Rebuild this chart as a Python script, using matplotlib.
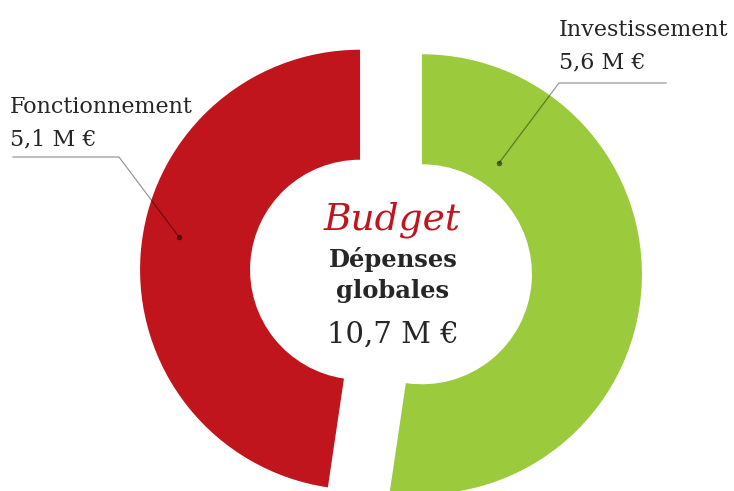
import matplotlib.pyplot as plt

labels = ['Investissement', 'Fonctionnement']
values = [5.6, 5.1]
value_labels = ['5,6 M €', '5,1 M €']
colors = ['#9bca3c', '#c1151e']
total_label = '10,7 M €'

W, H = 734, 491
scale = 220.0          # pixels per radius unit
cx, cy = 391, 272      # donut centre in pixels


def px(x, y):
    # pixel position -> data coords
    return ((x - cx) / scale, (cy - y) / scale)


fig = plt.figure(figsize=(W / 100, H / 100), dpi=100)
ax = fig.add_axes([0, 0, 1, 1])

ax.pie(values, colors=colors, startangle=90, counterclock=False,
       radius=1.0, explode=[0.141, 0.141],
       wedgeprops=dict(width=0.5, linewidth=0))

# pie resets the limits, so set them afterwards
ax.set_xlim(px(0, 0)[0], px(W, 0)[0])
ax.set_ylim(px(0, H)[1], px(0, 0)[1])
ax.set_aspect('equal')
ax.axis('off')

serif = 'DejaVu Serif'
txt = '#262626'

# centre text
ax.text(*px(392, 229), 'Budget', color='#c1151e', fontsize=27,
        family=serif, style='italic', ha='center', va='baseline')
ax.text(*px(393, 267), 'Dépenses', color=txt, fontsize=17.5,
        family=serif, weight='bold', ha='center', va='baseline')
ax.text(*px(393, 298), 'globales', color=txt, fontsize=17.5,
        family=serif, weight='bold', ha='center', va='baseline')
ax.text(*px(393, 343), total_label, color=txt, fontsize=21,
        family=serif, ha='center', va='baseline')

# labels with leader lines
label_pos = [(559, 36), (10, 113)]
lines = [[(666, 83), (559, 83), (499, 163)],
         [(13, 157), (119, 157), (179, 237)]]
for i in range(2):
    lx, ly = label_pos[i]
    ax.text(*px(lx, ly), labels[i], color=txt, fontsize=16,
            family=serif, ha='left', va='baseline')
    ax.text(*px(lx, ly + 32), value_labels[i], color=txt, fontsize=16,
            family=serif, ha='left', va='baseline')
    pts = [px(x, y) for x, y in lines[i]]
    ax.plot([p[0] for p in pts], [p[1] for p in pts], color='black',
            alpha=0.4, linewidth=0.9)
    ax.plot(pts[-1][0], pts[-1][1], 'o', color='black', alpha=0.5,
            markersize=4, markeredgewidth=0)

fig.savefig('out.png', dpi=100)
